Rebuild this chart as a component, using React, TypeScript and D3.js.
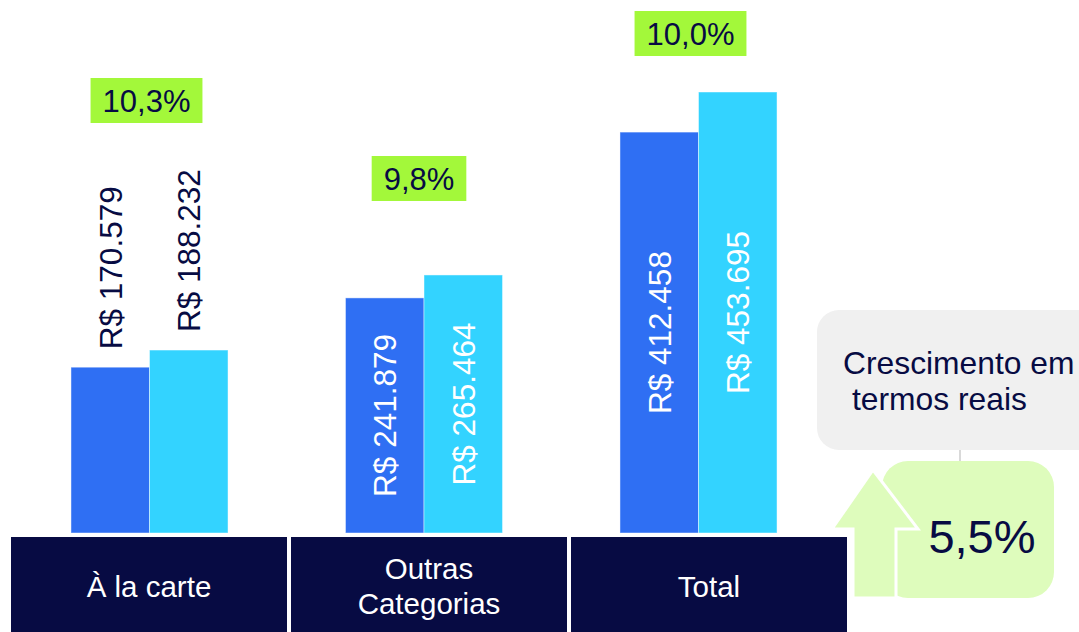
import React from "react";
import * as d3 from "d3";

// ---------- data ----------
const categories = ["À la carte", "Outras Categorias", "Total"];
const categoryLines = [["À la carte"], ["Outras", "Categorias"], ["Total"]];
const seriesNames = ["Anterior", "Atual"];
const previousValues = [170579, 241879, 412458];
const currentValues = [188232, 265464, 453695];
const growthLabels = ["10,3%", "9,8%", "10,0%"];
const realGrowthTitle = ["Crescimento em", "termos reais"];
const realGrowthValue = "5,5%";

// ---------- layout / style ----------
const W = 1079;
const H = 632;
const NAVY = "#070b43";
const BLUE = "#2f6ff3";
const CYAN = "#33d3ff";
const LIME = "#a3f83a";
const PALE_GREEN = "#defcbc";
const GRAY = "#f0f0f0";
const FONT = "'Liberation Sans', Arial, Helvetica, sans-serif";

const locale = d3.formatLocale({
  decimal: ",",
  thousands: ".",
  grouping: [3],
  currency: ["R$ ", ""],
});
const fmt = locale.format("$,.0f");

const charW: Record<string, number> = {
  "0": 0.556, "1": 0.556, "2": 0.556, "3": 0.556, "4": 0.556, "5": 0.556,
  "6": 0.556, "7": 0.556, "8": 0.556, "9": 0.556, ",": 0.278, "%": 0.889,
};
const textWidth = (s: string, size: number) =>
  s.split("").reduce((a, c) => a + (charW[c] ?? 0.556), 0) * size;

export default function App() {
  const baseline = 533;
  const x0 = d3.scaleBand<string>().domain(categories).range([12.25, 835.75]).padding(0);
  const x1 = d3
    .scaleBand<string>()
    .domain(seriesNames)
    .range([0, x0.bandwidth()])
    .paddingInner(0)
    .paddingOuter(0.748);
  const y = d3.scaleLinear().domain([0, 500000]).range([baseline, 47]);
  const xBox = d3.scaleBand<string>().domain(categories).range([11, 847]).paddingInner(0.0143).paddingOuter(0);

  const seriesValues = [previousValues, currentValues];
  const seriesColors = [BLUE, CYAN];
  const growthBoxTop = [78, 156, 11];
  const growthShift = [-3, -5, -8];

  const arrowPts: [number, number][] = [
    [873, 470], [918, 529], [896, 529], [896, 598], [853, 598], [853, 529], [832, 529],
  ];
  const arrowPath = d3.line()(arrowPts) + "Z";

  return (
    <svg
      width={W}
      height={H}
      viewBox={`0 0 ${W} ${H}`}
      style={{ position: "absolute", left: 0, top: 0, background: "#fff", fontFamily: FONT }}
    >
      {/* bars */}
      {categories.map((cat, ci) => (
        <g key={cat} transform={`translate(${x0(cat)},0)`}>
          {seriesNames.map((s, si) => {
            const v = seriesValues[si][ci];
            const bx = x1(s)!;
            const bw = x1.bandwidth();
            const top = y(v);
            const h = baseline - top;
            const cx = bx + bw / 2;
            const inside = h > 200;
            return (
              <g key={s}>
                <rect
                  x={bx}
                  y={top}
                  width={bw}
                  height={h}
                  fill={seriesColors[si]}
                  stroke="#ffffff"
                  strokeOpacity={0.45}
                  strokeWidth={1}
                />
                <text
                  transform={`translate(${cx},${inside ? (top + baseline) / 2 : top - 18}) rotate(-90)`}
                  textAnchor={inside ? "middle" : "start"}
                  dy="0.36em"
                  fontSize={31.5}
                  fill={inside ? "#ffffff" : NAVY}
                >
                  {fmt(v)}
                </text>
              </g>
            );
          })}
        </g>
      ))}

      {/* growth labels */}
      {categories.map((cat, ci) => {
        const cx = x0(cat)! + x0.bandwidth() / 2 + growthShift[ci];
        const tw = textWidth(growthLabels[ci], 31);
        const bw = tw + 24;
        const top = growthBoxTop[ci];
        return (
          <g key={"g" + cat}>
            <rect x={cx - bw / 2} y={top} width={bw} height={45} fill={LIME} />
            <text x={cx} y={top + 22.5} dy="0.36em" textAnchor="middle" fontSize={31} fill={NAVY}>
              {growthLabels[ci]}
            </text>
          </g>
        );
      })}

      {/* category boxes */}
      {categories.map((cat, ci) => {
        const bx = xBox(cat)!;
        const bw = xBox.bandwidth();
        const lines = categoryLines[ci];
        const lh = 35;
        const cy = 586;
        return (
          <g key={"c" + cat}>
            <rect x={bx} y={537} width={bw} height={H - 537} fill={NAVY} />
            {lines.map((ln, li) => (
              <text
                key={li}
                x={bx + bw / 2}
                y={cy + (li - (lines.length - 1) / 2) * lh}
                dy="0.36em"
                textAnchor="middle"
                fontSize={29.5}
                fill="#ffffff"
              >
                {ln}
              </text>
            ))}
          </g>
        );
      })}

      {/* real growth panel */}
      <rect x={817} y={310} width={300} height={140} rx={22} fill={GRAY} />
      <line x1={960} x2={960} y1={450} y2={462} stroke="#d9d9d9" strokeWidth={2} />
      <text x={843} y={374} fontSize={31.8} fill={NAVY}>
        {realGrowthTitle[0]}
      </text>
      <text x={852} y={410} fontSize={31.8} fill={NAVY}>
        {realGrowthTitle[1]}
      </text>
      <rect x={882} y={461} width={172} height={137} rx={26} fill={PALE_GREEN} />
      <path d={arrowPath} fill={PALE_GREEN} stroke="#ffffff" strokeWidth={3} strokeLinejoin="miter" />
      <text x={982} y={553} textAnchor="middle" fontSize={47} fill={NAVY}>
        {realGrowthValue}
      </text>
    </svg>
  );
}
